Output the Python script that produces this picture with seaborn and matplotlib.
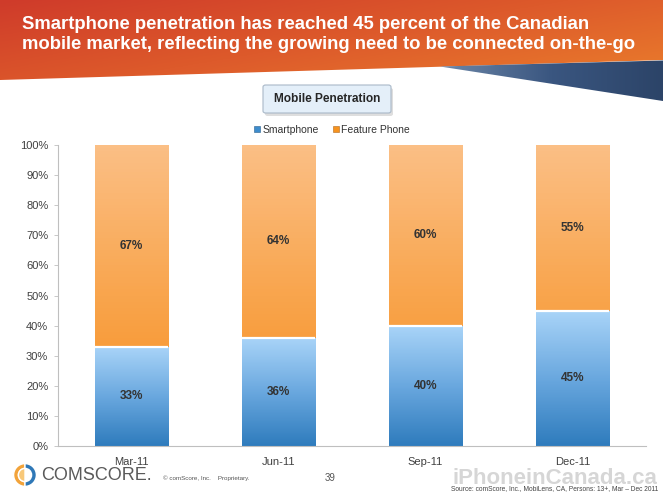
import numpy as np
import seaborn as sns
import pandas as pd
from matplotlib import pyplot as plt
from matplotlib.patches import Polygon, FancyBboxPatch, Wedge
from matplotlib.colors import LinearSegmentedColormap
from matplotlib.lines import Line2D

# chart data
months = ["Mar-11", "Jun-11", "Sep-11", "Dec-11"]
smartphone = [33, 36, 40, 45]
feature_phone = [67, 64, 60, 55]
y_ticks = [0, 10, 20, 30, 40, 50, 60, 70, 80, 90, 100]

title = ("Smartphone penetration has reached 45 percent of the Canadian\n"
         "mobile market, reflecting the growing need to be connected on-the-go")
chart_title = "Mobile Penetration"
source = "Source: comScore, Inc., MobiLens, CA, Persons: 13+, Mar \u2013 Dec 2011"

df = pd.DataFrame({"month": months, "Smartphone": smartphone,
                   "Feature Phone": feature_phone})
df["total"] = df["Smartphone"] + df["Feature Phone"]

sns.set_theme(style="white")
plt.rcParams["font.family"] = ["Liberation Sans", "DejaVu Sans"]

fig = plt.figure(figsize=(6.63, 4.95), dpi=100)
fig.patch.set_facecolor("white")


def fx(px):
    return px / 663


def fy(py):
    return 1 - py / 495


# ---- header banner (gradient, slanted bottom) ----
bg = fig.add_axes([0, 0, 1, 1], zorder=0)
bg.set_xlim(0, 663)
bg.set_ylim(495, 0)
bg.axis("off")

banner_cmap = LinearSegmentedColormap.from_list("banner", ["#cf3b2a", "#dd5a2b", "#ea7d2c"])
gx = np.linspace(0, 1, 300)
gy = np.linspace(0, 1, 60)
grad = (gx[None, :] * 0.7 + gy[:, None] * 0.5) / 1.2
img = bg.imshow(grad, cmap=banner_cmap, extent=(0, 663, 82, 0), aspect="auto", zorder=1)
banner = Polygon([(0, 0), (663, 0), (663, 60), (0, 80)], closed=True,
                 facecolor="none", edgecolor="none", transform=bg.transData)
bg.add_patch(banner)
img.set_clip_path(banner)

navy_cmap = LinearSegmentedColormap.from_list("navy", ["#6d87a8", "#3a5680", "#2c4468"])
img2 = bg.imshow(np.linspace(0, 1, 200)[None, :], cmap=navy_cmap,
                 extent=(440, 663, 101, 58), aspect="auto", zorder=1)
wedge = Polygon([(440, 66.5), (663, 60.5), (663, 101)], closed=True,
                facecolor="none", edgecolor="none", transform=bg.transData)
bg.add_patch(wedge)
img2.set_clip_path(wedge)

fig.text(fx(22), fy(34.5), title, color="white", fontsize=13.3, fontweight="bold",
         ha="left", va="center", linespacing=1.3, zorder=5)

# ---- chart title box ----
box = FancyBboxPatch((fx(263), fy(113)), fx(128), 28 / 495,
                     boxstyle="round,pad=0,rounding_size=0.004",
                     transform=fig.transFigure, facecolor="#e4eff9",
                     edgecolor="#a9b8c8", linewidth=0.8, zorder=3)
shadow = FancyBboxPatch((fx(265), fy(116)), fx(128), 28 / 495,
                        boxstyle="round,pad=0,rounding_size=0.004",
                        transform=fig.transFigure, facecolor="#c8c8c8",
                        edgecolor="none", alpha=0.6, zorder=2)
fig.patches.extend([shadow, box])
fig.text(fx(327), fy(99), chart_title, fontsize=8.6, fontweight="bold",
         color="#262626", ha="center", va="center", zorder=4)

# ---- bars ----
ax = fig.add_axes([fx(58), fy(446), fx(646 - 58), (446 - 145) / 495], zorder=2)
ax.patch.set_alpha(0)

sns.barplot(data=df, x="month", y="total", color="#f7931e", width=0.5,
            ax=ax, saturation=1, edgecolor="#9a6a3a", linewidth=0.5)
n_fp = len(ax.patches)
sns.barplot(data=df, x="month", y="Smartphone", color="#3d8ccd", width=0.5,
            ax=ax, saturation=1, edgecolor="#2a5f8c", linewidth=0.5)

orange_cmap = LinearSegmentedColormap.from_list("or", ["#f68d1c", "#f9a54d", "#fbbf85"])
blue_cmap = LinearSegmentedColormap.from_list("bl", ["#2f7cbd", "#6aa8df", "#a9d4f8"])
vert = np.linspace(0, 1, 100)[:, None]
for i, p in enumerate(ax.patches):
    x0, y0 = p.get_x(), p.get_y()
    w, h = p.get_width(), p.get_height()
    cmap = orange_cmap if i < n_fp else blue_cmap
    im = ax.imshow(vert, cmap=cmap, origin="lower", aspect="auto",
                   extent=(x0, x0 + w, y0, y0 + h), zorder=p.get_zorder() + 0.1)
    im.set_clip_path(p)
    if i >= n_fp:
        ax.plot([x0, x0 + w], [y0 + h, y0 + h], color="white", lw=1.6,
                zorder=p.get_zorder() + 0.2, solid_capstyle="butt")

for i in range(len(months)):
    s, f = df["Smartphone"][i], df["Feature Phone"][i]
    ax.text(i, s / 2, f"{s}%", ha="center", va="center", fontsize=8.5,
            fontweight="bold", color="#333333", zorder=10)
    ax.text(i, s + f / 2, f"{f}%", ha="center", va="center", fontsize=8.5,
            fontweight="bold", color="#333333", zorder=10)

ax.set_xlim(-0.5, 3.5)
ax.set_ylim(0, 100)
ax.set_yticks(y_ticks)
ax.set_yticklabels([f"{v}%" for v in y_ticks])
ax.set_xlabel("")
ax.set_ylabel("")
ax.tick_params(axis="y", length=3, width=0.6, color="#bfbfbf", labelsize=8,
               labelcolor="#404040", pad=4, left=True)
ax.tick_params(axis="x", length=0, labelsize=8, labelcolor="#404040", pad=8)
for side in ["top", "right"]:
    ax.spines[side].set_visible(False)
for side in ["left", "bottom"]:
    ax.spines[side].set_color("#bfbfbf")
    ax.spines[side].set_linewidth(0.8)

# legend
handles = [Line2D([], [], marker="s", linestyle="", markersize=4,
                  markerfacecolor="#3d8ccd", markeredgecolor="#2a5f8c", markeredgewidth=0.4),
           Line2D([], [], marker="s", linestyle="", markersize=4,
                  markerfacecolor="#f7931e", markeredgecolor="#b06a20", markeredgewidth=0.4)]
fig.legend(handles, ["Smartphone", "Feature Phone"], loc="center",
           bbox_to_anchor=(fx(332), fy(130)), ncol=2, frameon=False,
           fontsize=7.5, handlelength=0.6, handletextpad=0.2, columnspacing=1.4,
           labelcolor="#333333")

# ---- footer ----
logo = fig.add_axes([fx(13), fy(487), fx(24), 24 / 495], zorder=3)
logo.set_xlim(-1, 1)
logo.set_ylim(-1, 1)
logo.set_aspect("equal")
logo.axis("off")
logo.add_patch(Wedge((0, 0), 0.95, 90, 270, width=0.4, facecolor="#f2a33a"))
logo.add_patch(Wedge((0, 0), 0.95, -90, 90, width=0.4, facecolor="#2f78b7"))
logo.add_patch(Wedge((0, 0), 0.55, 90, 270, facecolor="#f8c879"))
fig.text(fx(41), fy(476), "COMSCORE.", fontsize=13, color="#5a5a5a",
         ha="left", va="center")
fig.text(fx(163), fy(478), "\u00a9 comScore, Inc.    Proprietary.", fontsize=4.5,
         color="#555555", ha="left", va="center")
fig.text(fx(330), fy(478), "39", fontsize=7, color="#555555", ha="center", va="center")
fig.text(fx(452), fy(478), "iPhoneinCanada.ca", fontsize=16, fontweight="bold",
         color="#b5b5b5", alpha=0.55, ha="left", va="center", zorder=1)
fig.text(fx(658), fy(489), source, fontsize=4.8, color="#444444",
         ha="right", va="center", zorder=2)

fig.savefig("out.png", dpi=100)
